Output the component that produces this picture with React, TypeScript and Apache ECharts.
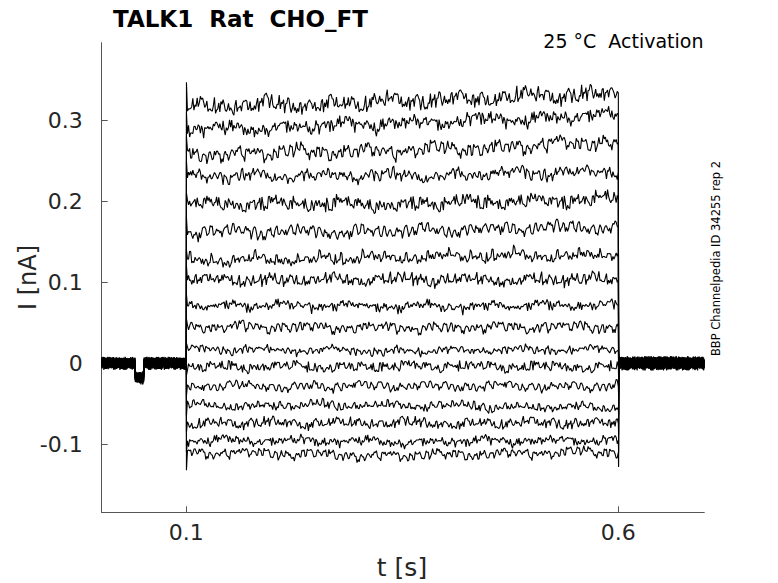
import React, { useEffect, useRef } from "react";
import * as echarts from "echarts";

// ---- axis ranges and ticks ----
const X_MIN = 0.002;
const X_MAX = 0.6995;
const Y_MIN = -0.184;
const Y_MAX = 0.3958;
const X_TICKS = [0.1, 0.6];
const Y_TICKS = [-0.1, 0, 0.1, 0.2, 0.3];

// ---- protocol timing ----
const T_ON = 0.1;
const T_OFF = 0.6;
const T_MID = 0.35;
const DIP_START = 0.041;
const DIP_END = 0.051;
const DIP_LEVEL = -0.018;
const BASE_AMP = 0.0078;

// ---- per-trace levels (nA) ----
const LEVEL_START = [0.316, 0.288, 0.257, 0.229, 0.196, 0.161, 0.128, 0.103, 0.072, 0.044, 0.016, -0.005, -0.029, -0.051, -0.074, -0.095, -0.111];
const LEVEL_MID = [0.323, 0.296, 0.261, 0.23, 0.196, 0.162, 0.132, 0.103, 0.07, 0.043, 0.014, -0.004, -0.029, -0.051, -0.074, -0.097, -0.115];
const LEVEL_END = [0.334, 0.307, 0.272, 0.235, 0.202, 0.168, 0.136, 0.103, 0.072, 0.044, 0.016, -0.005, -0.029, -0.054, -0.074, -0.095, -0.11];
const AMP = [0.0112, 0.0108, 0.0105, 0.0102, 0.0098, 0.0094, 0.009, 0.0084, 0.0078, 0.0075, 0.0072, 0.007, 0.007, 0.007, 0.007, 0.0072, 0.0072];
const SPIKE_ON = [0.347, 0.31, 0.28, 0.25, 0.21, 0.18, 0.14, 0.12, 0.085, 0.055, 0.025, -0.015, -0.04, -0.065, -0.085, -0.11, -0.132];
const SPIKE_OFF = [0.02, 0.018, 0.015, 0.012, 0.01, 0.008, 0.005, 0.0, -0.004, -0.008, -0.012, -0.017, -0.04, -0.065, -0.088, -0.11, -0.128];

// ---- hand-read noise pattern (relative units) ----
const NOISE = [
  0.2, -0.5, 0.7, -0.1, 0.4, -0.8, 0.3, 0.9, -0.3, 0.1, -0.6, 0.5, -0.2, 0.8, -0.9, 0.0, 0.6, -0.4, 0.3, -0.7,
  0.9, -0.2, 0.1, -0.5, 0.7, 0.4, -0.9, 0.2, -0.3, 0.6, -0.1, 0.8, -0.6, 0.3, -0.4, 0.5, -0.8, 0.1, 0.7, -0.2,
  -0.5, 0.4, -0.7, 0.9, 0.0, -0.3, 0.6, -0.9, 0.2, 0.5, -0.1, 0.3, -0.6, 0.8, -0.4, 0.1, 0.7, -0.8, 0.4, -0.2,
  0.6, -0.7, 0.2, 0.9, -0.5, 0.0, 0.3, -0.3, 0.8, -0.6, 0.5, -0.9, 0.1, 0.4, -0.2, 0.7, -0.4, 0.2, -0.8, 0.6,
  -0.1, 0.9, -0.6, 0.3, -0.5, 0.8, 0.1, -0.7, 0.4, -0.3, 0.5, -0.2, 0.7, -0.9, 0.2, 0.6, -0.4, 0.0, 0.8, -0.5,
  0.3, -0.8, 0.6, -0.1, 0.4, -0.6, 0.9, -0.3, 0.2, 0.7, -0.7, 0.1, -0.4, 0.5, -0.9, 0.8, 0.0, -0.2, 0.6, -0.5,
  0.4, -0.1, 0.7, -0.8, 0.3, 0.5, -0.6, 0.2, -0.3, 0.9, -0.7, 0.4, 0.1, -0.5, 0.8, -0.2, 0.6, -0.9, 0.3, -0.4,
];
const WOBBLE = [
  0.3, 0.5, 0.6, 0.4, 0.1, -0.2, -0.4, -0.5, -0.3, 0.0, 0.2, 0.5, 0.7, 0.6, 0.3, -0.1, -0.3, -0.6, -0.7, -0.4,
  -0.1, 0.2, 0.4, 0.3, 0.0, -0.2, -0.5, -0.4, -0.1, 0.3, 0.6, 0.8, 0.5, 0.2, -0.1, -0.4, -0.6, -0.3, 0.1, 0.2,
];

const TITLE = "TALK1  Rat  CHO_FT";
const SUBTITLE = "25 °C  Activation";
const SIDE_NOTE = "BBP Channelpedia ID 34255 rep 2";
const X_NAME = "t [s]";
const Y_NAME = "I [nA]";

function levelAt(i: number, t: number) {
  if (t <= T_MID) {
    const f = (t - T_ON) / (T_MID - T_ON);
    return LEVEL_START[i] + (LEVEL_MID[i] - LEVEL_START[i]) * f;
  }
  const f = (t - T_MID) / (T_OFF - T_MID);
  return LEVEL_MID[i] + (LEVEL_END[i] - LEVEL_MID[i]) * f;
}

function jitter(k: number, off: number) {
  const N = NOISE.length;
  return (NOISE[(k * 7 + off) % N] + 0.5 * NOISE[(k * 11 + off * 3 + 5) % N]) / 1.3;
}

function buildTrace(i: number) {
  const W = WOBBLE.length;
  const off = i * 37;
  const pts: number[][] = [];
  let k = 0;
  for (let j = 0; ; j++) {
    const t = X_MIN + j * 0.0005;
    if (t >= T_ON - 0.0003) break;
    const base = t >= DIP_START && t <= DIP_END ? DIP_LEVEL : 0;
    pts.push([t, base + jitter(k, off) * BASE_AMP]);
    k++;
  }
  pts.push([T_ON, 0]);
  pts.push([T_ON + 0.0001, SPIKE_ON[i]]);
  for (let j = 1; j < 400; j++) {
    const t = T_ON + j * 0.00125;
    const v =
      levelAt(i, t) +
      jitter(k, off) * AMP[i] +
      WOBBLE[(Math.floor(j / 6) + i * 7) % W] * AMP[i] * 0.55;
    pts.push([t, v]);
    k++;
  }
  pts.push([T_OFF, LEVEL_END[i]]);
  pts.push([T_OFF + 0.0003, SPIKE_OFF[i]]);
  for (let j = 1; ; j++) {
    const t = T_OFF + 0.0003 + j * 0.0005;
    if (t > X_MAX) break;
    pts.push([t, jitter(k, off) * BASE_AMP * 1.1]);
    k++;
  }
  return pts;
}

export default function App() {
  const ref = useRef<HTMLDivElement>(null);
  useEffect(() => {
    if (!ref.current) return;
    const chart = echarts.init(ref.current, undefined, { renderer: "svg" });
    const series = LEVEL_START.map((_, i) => ({
      type: "line",
      data: buildTrace(i),
      showSymbol: false,
      symbol: "none",
      silent: true,
      lineStyle: { color: "#000", width: 1.1 },
      clip: true,
    }));
    const axisLineStyle = { show: true, onZero: false, lineStyle: { color: "#555", width: 1 } };
    chart.setOption({
      animation: false,
      grid: { left: 101.7, right: 73.7, top: 42.7, bottom: 70.7, containLabel: false },
      xAxis: {
        type: "value",
        min: X_MIN,
        max: X_MAX,
        axisLine: axisLineStyle,
        splitLine: { show: false },
        axisTick: { show: true, inside: true, length: 6, customValues: X_TICKS, lineStyle: { color: "#555" } },
        axisLabel: {
          customValues: X_TICKS,
          margin: 9,
          fontSize: 22,
          fontFamily: "DejaVu Sans",
          color: "#262626",
          formatter: (v: number) => String(v),
        },
      },
      yAxis: {
        type: "value",
        min: Y_MIN,
        max: Y_MAX,
        axisLine: axisLineStyle,
        splitLine: { show: false },
        axisTick: { show: true, inside: true, length: 6, customValues: Y_TICKS, lineStyle: { color: "#555" } },
        axisLabel: {
          customValues: Y_TICKS,
          margin: 19,
          fontSize: 22,
          fontFamily: "DejaVu Sans",
          color: "#262626",
          formatter: (v: number) => String(v),
        },
      },
      graphic: [
        {
          type: "text",
          x: 113,
          y: 18.5,
          style: { text: TITLE, font: "bold 23px 'DejaVu Sans'", fill: "#000", textAlign: "left", textVerticalAlign: "middle" },
        },
        {
          type: "text",
          x: 703.5,
          y: 40.5,
          style: { text: SUBTITLE, font: "19px 'DejaVu Sans'", fill: "#000", textAlign: "right", textVerticalAlign: "middle" },
        },
        {
          type: "text",
          x: 28,
          y: 277.5,
          rotation: Math.PI / 2,
          style: { text: Y_NAME, font: "24px 'DejaVu Sans'", fill: "#262626", textAlign: "center", textVerticalAlign: "middle" },
        },
        {
          type: "text",
          x: 402,
          y: 567,
          style: { text: X_NAME, font: "25px 'DejaVu Sans'", fill: "#262626", textAlign: "center", textVerticalAlign: "middle" },
        },
        {
          type: "text",
          x: 716,
          y: 258.5,
          rotation: Math.PI / 2,
          style: { text: SIDE_NOTE, font: "11.5px 'DejaVu Sans'", fill: "#000", textAlign: "center", textVerticalAlign: "middle" },
        },
      ],
      series,
    });
    return () => chart.dispose();
  }, []);
  return (
    <div
      ref={ref}
      style={{ position: "fixed", left: 0, top: 0, width: 778, height: 583, background: "#fff" }}
    />
  );
}
